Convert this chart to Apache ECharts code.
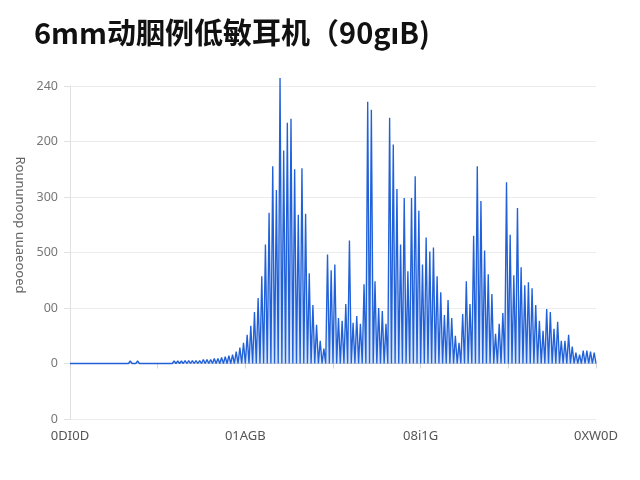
<!DOCTYPE html>
<html>
<head>
<meta charset="utf-8">
<script src="https://cdn.jsdelivr.net/npm/echarts@6/dist/echarts.min.js"></script>
<style>
html,body{margin:0;padding:0;background:#fff;}
#chart{width:640px;height:480px;}
</style>
</head>
<body>
<div id="chart"></div>
<script>
const titleText = "6mm动胭例低敏耳机（90gıB)";
const yAxisTitle = "Roununoop uuaeooed";
const xTickLabels = ["0DI0D", "01AGB", "08i1G", "0XW0D"];
const yTickLabels = ["0", "0", "00", "500", "300", "200", "240"];
// peak heights of each spike (troughs return to baseline 0)
const peaks = [
  2,2,2,2,2,2,2,2,2,2, 2,2,2,2,2,2,2.5,2,2.5,2, 2,2,2,2,2,2,2,2,2.5,2.5, 2.5,3,3,
  3,3,3,4,4,4,5,5,6,7,8,9,12,16,21,29,38,52,66,88,
  120,152,199,175,288,215,243,247,
  196,150,197,151,91,59,39,23,15,
  110,94,100,46,43,60,124,41,48,40,
  80,264,256,83,56,53,40,248,221,176,
  120,167,93,167,189,154,100,127,113,117,
  88,72,49,64,46,28,21,50,83,60,
  129,199,164,114,90,70,30,40,51,183,
  130,89,157,97,79,82,76,59,43,33,
  55,52,35,42,23,23,29,17,11,9,
  13,13,12,11
];
const baseline = 0;

const seriesData = [];
for (let i = 0; i <= peaks.length * 2; i++) {
  seriesData.push([i, i % 2 === 1 ? peaks[(i - 1) / 2] : baseline]);
}
const xMax = peaks.length * 2;
const xStep = xMax / 6;
const yStep = 56;

const chart = echarts.init(document.getElementById('chart'));
chart.setOption({
  animation: false,
  backgroundColor: '#ffffff',
  title: {
    text: titleText,
    left: 29,
    top: 13,
    textStyle: { fontSize: 29, fontWeight: 'bold', color: '#111', fontFamily: '"Noto Sans CJK SC", "Noto Sans", sans-serif' }
  },
  grid: { left: 70, right: 44, top: 86, bottom: 61 },
  graphic: [{
    type: 'text',
    x: 20, y: 225,
    rotation: -Math.PI / 2,
    style: {
      text: yAxisTitle,
      fill: '#666',
      font: '13px "Noto Sans", sans-serif',
      align: 'center',
      verticalAlign: 'middle'
    }
  }],
  xAxis: {
    type: 'value',
    min: 0, max: xMax, interval: xStep,
    axisLine: { show: true, lineStyle: { color: '#d6d6d6' } },
    axisTick: { show: true, length: 5, lineStyle: { color: '#d6d6d6' } },
    splitLine: { show: false },
    axisLabel: {
      color: '#555', fontSize: 13, margin: 11,
      fontFamily: '"Noto Sans", sans-serif',
      formatter: v => (Math.round(v) % (2 * xStep) === 0 ? xTickLabels[Math.round(v) / (2 * xStep)] : '')
    }
  },
  yAxis: {
    type: 'value',
    min: -yStep, max: yStep * 5, interval: yStep,
    axisLine: { show: true, lineStyle: { color: '#e0e0e0' } },
    axisTick: { show: true, length: 6, lineStyle: { color: '#e0e0e0' } },
    splitLine: { show: true, lineStyle: { color: '#ececec' } },
    axisLabel: {
      color: '#777', fontSize: 12.5, margin: 12,
      fontFamily: '"Noto Sans", sans-serif',
      formatter: v => yTickLabels[Math.round((v + yStep) / yStep)]
    }
  },
  series: [{
    type: 'line',
    data: seriesData,
    showSymbol: false,
    symbol: 'none',
    clip: false,
    lineStyle: { color: '#2060d8', width: 1.35 },
    areaStyle: { color: 'rgba(60,120,225,0.28)', origin: 0 }
  }]
});
</script>
</body>
</html>
